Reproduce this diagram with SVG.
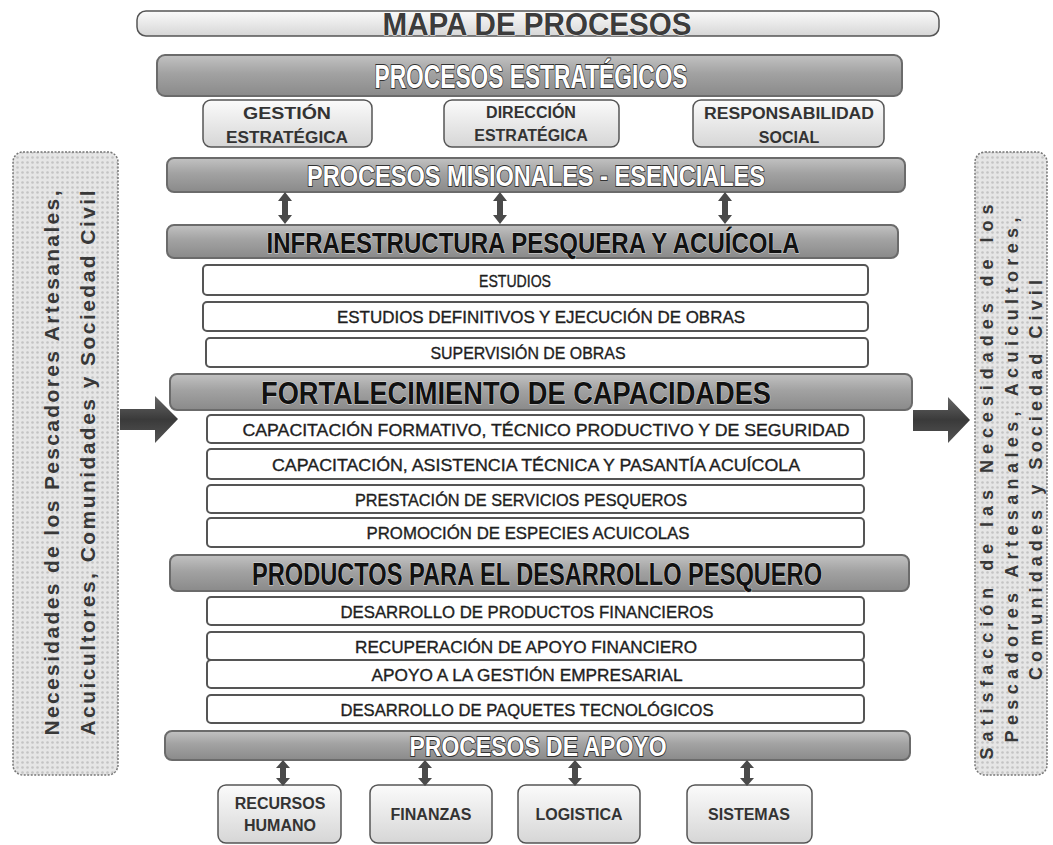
<svg xmlns="http://www.w3.org/2000/svg" width="1053" height="845" viewBox="0 0 1053 845">
<defs>
<linearGradient id="gBar" x1="0" y1="0" x2="0" y2="1">
<stop offset="0" stop-color="#c2c2c2"/><stop offset="0.45" stop-color="#a2a2a2"/><stop offset="1" stop-color="#8a8a8a"/>
</linearGradient>
<linearGradient id="gLight" x1="0" y1="0" x2="0" y2="1">
<stop offset="0" stop-color="#fbfbfb"/><stop offset="1" stop-color="#d6d6d6"/>
</linearGradient>
<linearGradient id="gArrow" x1="0" y1="0" x2="0" y2="1">
<stop offset="0" stop-color="#666"/><stop offset="0.5" stop-color="#3a3a3a"/><stop offset="1" stop-color="#555"/>
</linearGradient>
<pattern id="dots" width="5" height="5" patternUnits="userSpaceOnUse">
<rect width="5" height="5" fill="#e6e6e6"/>
<circle cx="2.5" cy="2.5" r="1.3" fill="#c4c4c4"/>
</pattern>
<style>
.bar{fill:url(#gBar);stroke:#6b6b6b;stroke-width:2}
.light{fill:url(#gLight);stroke:#555;stroke-width:1.5}
.wbox{fill:#fff;stroke:#555;stroke-width:2}
.panel{fill:url(#dots);stroke:#777;stroke-width:1.5;stroke-dasharray:2 1.5}
.tw{font-family:"Liberation Sans",Arial,sans-serif;font-weight:bold;fill:#fff;stroke:#333;stroke-width:1.8;paint-order:stroke;text-anchor:middle}
.tb{font-family:"Liberation Sans",Arial,sans-serif;font-weight:bold;fill:#111;stroke:#dcdcdc;stroke-width:1;paint-order:stroke;text-anchor:middle}
.tbox{font-family:"Liberation Sans",Arial,sans-serif;font-size:17px;fill:#1e1e1e;stroke:#1e1e1e;stroke-width:0.35;text-anchor:middle}
.tsm{font-family:"Liberation Sans",Arial,sans-serif;font-weight:bold;font-size:16px;fill:#333;text-anchor:middle}
.tside{font-family:"Liberation Sans",Arial,sans-serif;font-weight:bold;fill:#383838;text-anchor:middle}
.conn{fill:#4a4a4a}
</style>
</defs>
<rect width="1053" height="845" fill="#fff"/>

<g id="title">
<rect x="137" y="11" width="802" height="25" rx="9" class="light"/>
<text x="537" y="35" font-size="31" textLength="309" lengthAdjust="spacingAndGlyphs" font-family="Liberation Sans, Arial, sans-serif" font-weight="bold" fill="#3c3c3c" stroke="#fff" stroke-width="1" paint-order="stroke" text-anchor="middle">MAPA DE PROCESOS</text>
</g>

<g id="estrategicos">
<rect x="157" y="55" width="745" height="41" rx="8" class="bar"/>
<text x="531" y="88" font-size="34" textLength="313" lengthAdjust="spacingAndGlyphs" class="tw">PROCESOS ESTRATÉGICOS</text>
</g>
<g id="gestion">
<rect x="203" y="100" width="169" height="47" rx="8" class="light"/>
<text x="287" y="119" class="tsm" textLength="88" lengthAdjust="spacingAndGlyphs">GESTIÓN</text>
<text x="287" y="143" class="tsm" textLength="122" lengthAdjust="spacingAndGlyphs">ESTRATÉGICA</text>
</g>
<g id="direccion">
<rect x="444" y="100" width="175" height="47" rx="8" class="light"/>
<text x="531" y="118" class="tsm" font-size="13">DIRECCIÓN</text>
<text x="531" y="141" class="tsm" font-size="13">ESTRATÉGICA</text>
</g>
<g id="responsabilidad">
<rect x="693" y="100" width="191" height="47" rx="8" class="light"/>
<text x="789" y="119" class="tsm" textLength="170" lengthAdjust="spacingAndGlyphs">RESPONSABILIDAD</text>
<text x="789" y="143" class="tsm">SOCIAL</text>
</g>

<g id="misionales">
<rect x="167" y="158" width="738" height="34" rx="7" class="bar"/>
<text x="536" y="186" font-size="30" textLength="458" lengthAdjust="spacingAndGlyphs" class="tw">PROCESOS MISIONALES - ESENCIALES</text>
</g>

<g id="infraestructura">
<rect x="167" y="225" width="731" height="33" rx="7" class="bar"/>
<text x="533" y="253" font-size="30" textLength="533" lengthAdjust="spacingAndGlyphs" class="tb">INFRAESTRUCTURA PESQUERA Y ACUÍCOLA</text>
</g>
<g id="estudios"><rect x="203" y="265" width="665" height="30" rx="4" class="wbox"/><text x="515" y="287" class="tbox" textLength="72" lengthAdjust="spacingAndGlyphs">ESTUDIOS</text></g>
<g id="estudios-definitivos"><rect x="203" y="302" width="665" height="29" rx="4" class="wbox"/><text x="541" y="323" class="tbox" textLength="408" lengthAdjust="spacingAndGlyphs">ESTUDIOS DEFINITIVOS Y EJECUCIÓN DE OBRAS</text></g>
<g id="supervision"><rect x="206" y="338" width="662" height="29" rx="4" class="wbox"/><text x="528" y="359" class="tbox" textLength="195" lengthAdjust="spacingAndGlyphs">SUPERVISIÓN DE OBRAS</text></g>

<g id="fortalecimiento">
<rect x="170" y="374" width="742" height="36" rx="7" class="bar"/>
<text x="516" y="404" font-size="32" textLength="510" lengthAdjust="spacingAndGlyphs" class="tb">FORTALECIMIENTO DE CAPACIDADES</text>
</g>
<g id="cap-formativo"><rect x="207" y="415" width="657" height="28" rx="4" class="wbox"/><text x="546" y="436" class="tbox" textLength="607" lengthAdjust="spacingAndGlyphs">CAPACITACIÓN FORMATIVO, TÉCNICO PRODUCTIVO Y DE SEGURIDAD</text></g>
<g id="cap-asistencia"><rect x="207" y="449" width="657" height="30" rx="4" class="wbox"/><text x="536" y="471" class="tbox" textLength="528" lengthAdjust="spacingAndGlyphs">CAPACITACIÓN, ASISTENCIA TÉCNICA Y PASANTÍA ACUÍCOLA</text></g>
<g id="prestacion"><rect x="207" y="485" width="657" height="28" rx="4" class="wbox"/><text x="521" y="506" class="tbox" textLength="332" lengthAdjust="spacingAndGlyphs">PRESTACIÓN DE SERVICIOS PESQUEROS</text></g>
<g id="promocion"><rect x="207" y="518" width="657" height="29" rx="4" class="wbox"/><text x="528" y="539" class="tbox" textLength="323" lengthAdjust="spacingAndGlyphs">PROMOCIÓN DE ESPECIES ACUICOLAS</text></g>

<g id="productos">
<rect x="170" y="555" width="739" height="36" rx="7" class="bar"/>
<text x="537" y="585" font-size="32" textLength="570" lengthAdjust="spacingAndGlyphs" class="tb">PRODUCTOS PARA EL DESARROLLO PESQUERO</text>
</g>
<g id="desarrollo-financieros"><rect x="207" y="597" width="657" height="28" rx="4" class="wbox"/><text x="527" y="618" class="tbox" textLength="373" lengthAdjust="spacingAndGlyphs">DESARROLLO DE PRODUCTOS FINANCIEROS</text></g>
<g id="recuperacion"><rect x="207" y="632" width="657" height="28" rx="4" class="wbox"/><text x="526" y="653" class="tbox" textLength="342" lengthAdjust="spacingAndGlyphs">RECUPERACIÓN DE APOYO FINANCIERO</text></g>
<g id="apoyo-gestion"><rect x="207" y="660" width="657" height="28" rx="4" class="wbox"/><text x="527" y="681" class="tbox" textLength="311" lengthAdjust="spacingAndGlyphs">APOYO A LA GESTIÓN EMPRESARIAL</text></g>
<g id="paquetes"><rect x="207" y="695" width="657" height="28" rx="4" class="wbox"/><text x="527" y="716" class="tbox" textLength="373" lengthAdjust="spacingAndGlyphs">DESARROLLO DE PAQUETES TECNOLÓGICOS</text></g>

<g id="apoyo">
<rect x="165" y="731" width="745" height="29" rx="7" class="bar"/>
<text x="538" y="756" font-size="27" textLength="257" lengthAdjust="spacingAndGlyphs" class="tw">PROCESOS DE APOYO</text>
</g>
<g id="recursos"><rect x="218" y="785" width="123" height="58" rx="8" class="light"/><text x="280" y="809" class="tsm" font-size="14">RECURSOS</text><text x="280" y="831" class="tsm" font-size="14">HUMANO</text></g>
<g id="finanzas"><rect x="370" y="785" width="122" height="58" rx="8" class="light"/><text x="431" y="820" class="tsm" font-size="14">FINANZAS</text></g>
<g id="logistica"><rect x="518" y="785" width="122" height="58" rx="8" class="light"/><text x="579" y="820" class="tsm" font-size="14">LOGISTICA</text></g>
<g id="sistemas"><rect x="687" y="785" width="125" height="58" rx="8" class="light"/><text x="749" y="820" class="tsm" font-size="14">SISTEMAS</text></g>

<g id="necesidades">
<rect x="13" y="152" width="105" height="623" rx="10" class="panel"/>
<text transform="translate(59,463) rotate(-90)" font-size="21" textLength="545" lengthAdjust="spacing" class="tside">Necesidades de los Pescadores Artesanales,</text>
<text transform="translate(95,463) rotate(-90)" font-size="21" textLength="545" lengthAdjust="spacing" class="tside">Acuicultores, Comunidades y Sociedad Civil</text>
</g>
<g id="satisfaccion">
<rect x="975" y="152" width="72" height="623" rx="10" class="panel"/>
<text transform="translate(993,482) rotate(-90)" font-size="18" textLength="555" lengthAdjust="spacing" class="tside">Satisfacción de las Necesidades de los</text>
<text transform="translate(1018,480) rotate(-90)" font-size="18" textLength="525" lengthAdjust="spacing" class="tside">Pescadores Artesanales, Acuicultores,</text>
<text transform="translate(1042,480) rotate(-90)" font-size="18" textLength="400" lengthAdjust="spacing" class="tside">Comunidades y Sociedad Civil</text>
</g>

<g id="connectors">
<path class="conn" d="M285,192 L292,201 L288,201 L288,215 L292,215 L285,224 L278,215 L282,215 L282,201 L278,201 Z"/>
<path class="conn" d="M500,192 L507,201 L503,201 L503,215 L507,215 L500,224 L493,215 L497,215 L497,201 L493,201 Z"/>
<path class="conn" d="M725,192 L732,201 L728,201 L728,215 L732,215 L725,224 L718,215 L722,215 L722,201 L718,201 Z"/>
<path class="conn" d="M283,760 L290,768 L286,768 L286,778 L290,778 L283,786 L276,778 L280,778 L280,768 L276,768 Z"/>
<path class="conn" d="M425,760 L432,768 L428,768 L428,778 L432,778 L425,786 L418,778 L422,778 L422,768 L418,768 Z"/>
<path class="conn" d="M575,760 L582,768 L578,768 L578,778 L582,778 L575,786 L568,778 L572,778 L572,768 L568,768 Z"/>
<path class="conn" d="M747,760 L754,768 L750,768 L750,778 L754,778 L747,786 L740,778 L744,778 L744,768 L740,768 Z"/>
<path fill="url(#gArrow)" d="M120,409 L155,409 L155,396 L178,419 L155,443 L155,430 L120,430 Z"/>
<path fill="url(#gArrow)" d="M913,410 L948,410 L948,397 L970,420 L948,443 L948,431 L913,431 Z"/>
</g>
</svg>
